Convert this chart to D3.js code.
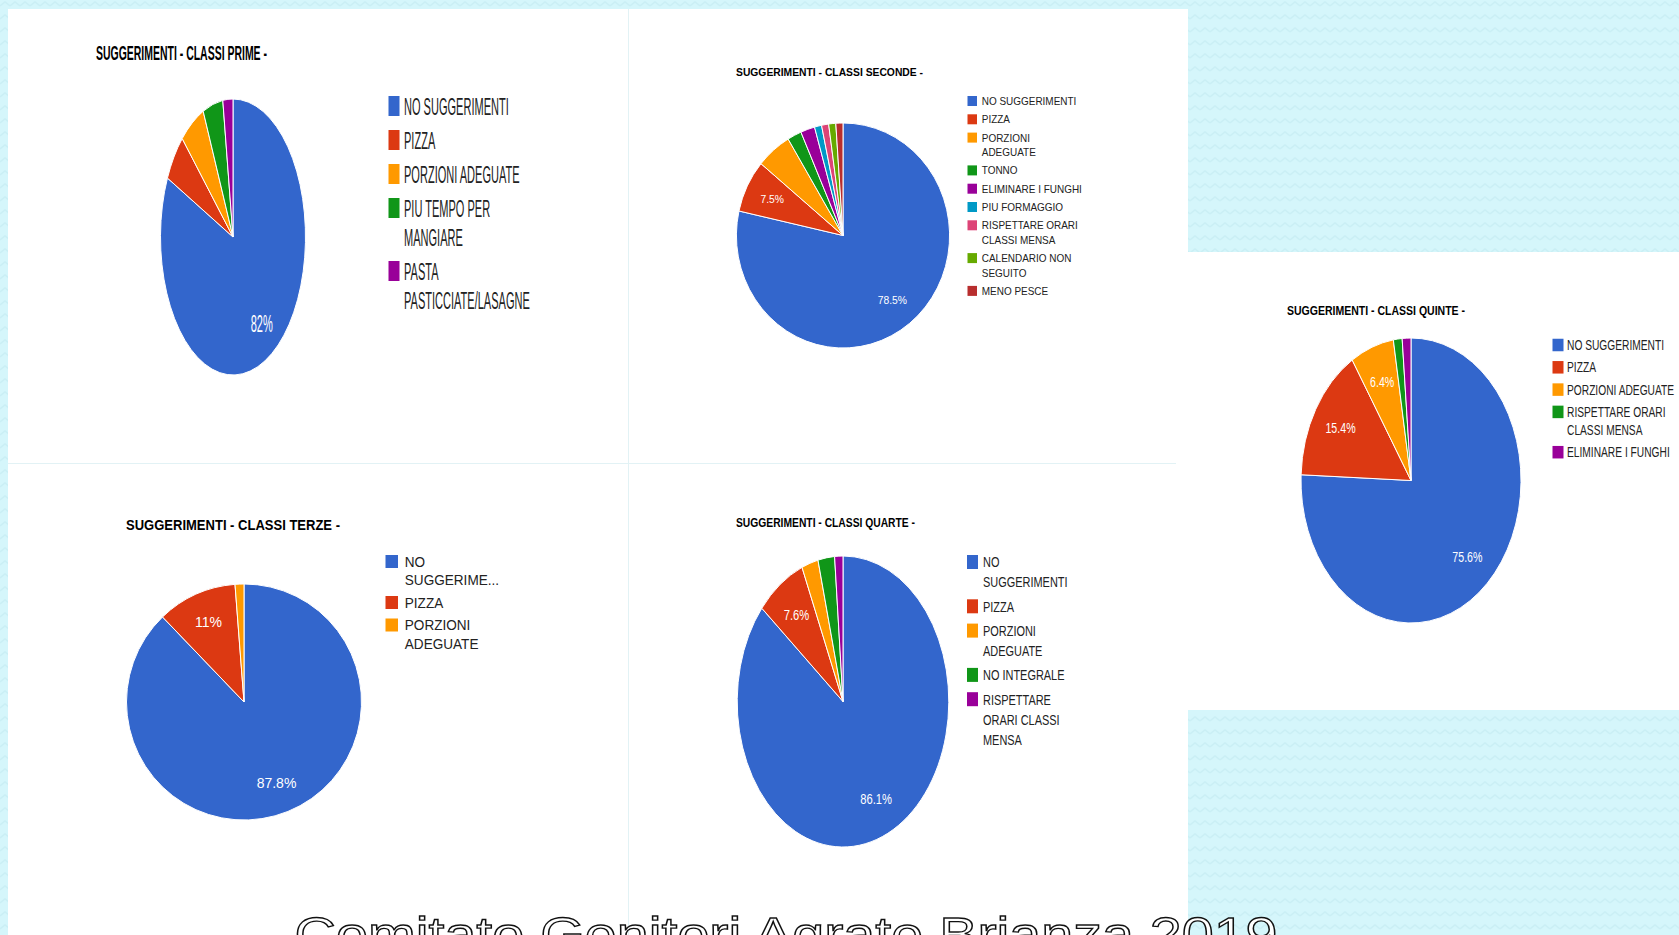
<!DOCTYPE html>
<html>
<head>
<meta charset="utf-8">
<script src="https://cdn.jsdelivr.net/npm/d3@7"></script>
<style>
  html, body { margin: 0; padding: 0; overflow: hidden; background: #d5f6fb; }
  svg { display: block; }
  text { font-family: "Liberation Sans", Arial, sans-serif; }
</style>
</head>
<body>
<svg id="chart"></svg>
<script>
// --- data (counts per suggestion) ---
const primeCategories = ["NO SUGGERIMENTI", "PIZZA", "PORZIONI ADEGUATE", "PIU TEMPO PER MANGIARE", "PASTA PASTICCIATE/LASAGNE"];
const primeValues = [73, 5, 5, 4, 2];

const secondeCategories = ["NO SUGGERIMENTI", "PIZZA", "PORZIONI ADEGUATE", "TONNO", "ELIMINARE I FUNGHI",
  "PIU FORMAGGIO", "RISPETTARE ORARI CLASSI MENSA", "CALENDARIO NON SEGUITO", "MENO PESCE"];
const secondeValues = [73, 7, 5, 2, 2, 1, 1, 1, 1];

const terzeCategories = ["NO SUGGERIMENTI", "PIZZA", "PORZIONI ADEGUATE"];
const terzeValues = [72, 9, 1];

const quarteCategories = ["NO SUGGERIMENTI", "PIZZA", "PORZIONI ADEGUATE", "NO INTEGRALE", "RISPETTARE ORARI CLASSI MENSA"];
const quarteValues = [68, 6, 2, 2, 1];

const quinteCategories = ["NO SUGGERIMENTI", "PIZZA", "PORZIONI ADEGUATE", "RISPETTARE ORARI CLASSI MENSA", "ELIMINARE I FUNGHI"];
const quinteValues = [59, 12, 5, 1, 1];

const colors = ["#3366cc", "#dc3912", "#ff9900", "#109618", "#990099", "#0099c6", "#dd4477", "#66aa00", "#b82e2e"];
const footerText = "Comitato Genitori Agrate Brianza 2019";

const W = 1679, H = 935;

// layout of each chart as it sits (stretched) on the slide
const panels = [
  { title: "SUGGERIMENTI - CLASSI PRIME -", categories: primeCategories, values: primeValues,
    titleX: 96, titleY: 52, titleSize: 21, titleW: 171,
    cx: 233, cy: 237, rx: 72.5, ry: 138, labelSize: 24, labelSx: 0.46,
    legX: 388.5, legY: 106, boxW: 11, boxH: 20, textDx: 15.5,
    legSize: 24, legSx: 0.46, legMaxW: 135, lineH: 29, step: 34 },
  { title: "SUGGERIMENTI - CLASSI SECONDE -", categories: secondeCategories, values: secondeValues,
    titleX: 736, titleY: 72, titleSize: 11, titleW: 187,
    cx: 843, cy: 235.5, rx: 106.6, ry: 112.5, labelSize: 11, labelSx: 0.94,
    legX: 967.5, legY: 101, boxW: 9.5, boxH: 10, textDx: 14.3,
    legSize: 11, legSx: 0.905, legMaxW: 103, lineH: 14.5, step: 18.3 },
  { title: "SUGGERIMENTI - CLASSI TERZE -", categories: terzeCategories, values: terzeValues,
    titleX: 126, titleY: 525, titleSize: 15, titleW: 214,
    cx: 244, cy: 702, rx: 117.5, ry: 118, labelSize: 14, labelSx: 1,
    legX: 385.5, legY: 561.5, boxW: 12.5, boxH: 13, textDx: 19.3,
    legSize: 14, legSx: 0.97, legMaxW: 98, lineH: 18.5, step: 22.5 },
  { title: "SUGGERIMENTI - CLASSI QUARTE -", categories: quarteCategories, values: quarteValues,
    titleX: 736, titleY: 522, titleSize: 13, titleW: 179,
    cx: 843, cy: 701.5, rx: 105.8, ry: 145.5, labelSize: 14, labelSx: 0.8,
    legX: 967, legY: 562, boxW: 11, boxH: 14, textDx: 16,
    legSize: 15, legSx: 0.73, legMaxW: 90, lineH: 20, step: 24.3 },
  { title: "SUGGERIMENTI - CLASSI QUINTE -", categories: quinteCategories, values: quinteValues,
    titleX: 1287, titleY: 311, titleSize: 12.5, titleW: 178,
    cx: 1411, cy: 480.5, rx: 110, ry: 142.5, labelSize: 14, labelSx: 0.76,
    legX: 1552.5, legY: 345, boxW: 11, boxH: 12.5, textDx: 14.5,
    legSize: 14, legSx: 0.73, legMaxW: 115, lineH: 18, step: 22.3 }
];

const svg = d3.select("#chart").attr("width", W).attr("height", H);

// slide background with the zigzag texture
const pat = svg.append("defs").append("pattern")
  .attr("id", "zig").attr("width", 10).attr("height", 13)
  .attr("patternUnits", "userSpaceOnUse");
pat.append("rect").attr("width", 10).attr("height", 13).attr("fill", "#d5f6fb");
pat.append("path").attr("d", "M0,6 L5,2 L10,6")
  .attr("fill", "none").attr("stroke", "#caeff5").attr("stroke-width", 1.4);
svg.append("rect").attr("width", W).attr("height", H).attr("fill", "url(#zig)");

// white screenshot areas
svg.append("rect").attr("x", 8).attr("y", 9).attr("width", 1180).attr("height", H - 9).attr("fill", "#fff");
svg.append("rect").attr("x", 1188).attr("y", 252).attr("width", W - 1188).attr("height", 458).attr("fill", "#fff");
svg.append("line").attr("x1", 628.5).attr("x2", 628.5).attr("y1", 9).attr("y2", H)
  .attr("stroke", "#e2f2f5");
svg.append("line").attr("x1", 8).attr("x2", 1176).attr("y1", 463.5).attr("y2", 463.5)
  .attr("stroke", "#e2f2f5");

const R = 100;
const pie = d3.pie().sort(null).value(d => d);
const arc = d3.arc().innerRadius(0).outerRadius(R);
const labelArc = d3.arc().innerRadius(R * 0.74).outerRadius(R * 0.74);
const pct = d3.format(".1~%");

// wrap a legend label to the legend width, truncating with "..." like Google does
function wrapLines(label, p) {
  const measure = svg.append("text").attr("font-size", p.legSize);
  const width = s => measure.text(s).node().getComputedTextLength() * p.legSx;
  const lines = [];
  let cur = "";
  label.split(" ").forEach(w => {
    const t = cur ? cur + " " + w : w;
    if (!cur || width(t) <= p.legMaxW) cur = t;
    else { lines.push(cur); cur = w; }
  });
  lines.push(cur);
  const out = lines.map(l => {
    if (width(l) <= p.legMaxW) return l;
    let s = l;
    while (s.length > 1 && width(s + "...") > p.legMaxW) s = s.slice(0, -1);
    return s + "...";
  });
  measure.remove();
  return out;
}

panels.forEach(p => {
  const total = d3.sum(p.values);
  const arcs = pie(p.values);

  // title
  svg.append("text")
    .attr("x", p.titleX)
    .attr("y", p.titleY + 0.358 * p.titleSize)
    .attr("font-size", p.titleSize)
    .attr("font-weight", "bold")
    .attr("fill", "#000")
    .attr("textLength", p.titleW)
    .attr("lengthAdjust", "spacingAndGlyphs")
    .text(p.title);

  // pie (drawn as a circle, then stretched like the pasted screenshot)
  svg.append("g")
    .attr("transform", `translate(${p.cx},${p.cy}) scale(${p.rx / R},${p.ry / R})`)
    .selectAll("path")
    .data(arcs)
    .join("path")
    .attr("d", arc)
    .attr("fill", (d, i) => colors[i])
    .attr("stroke", "#fff")
    .attr("stroke-width", 1)
    .attr("vector-effect", "non-scaling-stroke");

  // percentage labels on slices big enough to hold them
  arcs.filter(a => a.value / total >= 0.06).forEach(a => {
    const [lx, ly] = labelArc.centroid(a);
    svg.append("text")
      .attr("transform", `translate(${p.cx + lx * p.rx / R},${p.cy + ly * p.ry / R + 0.358 * p.labelSize}) scale(${p.labelSx},1)`)
      .attr("text-anchor", "middle")
      .attr("font-size", p.labelSize)
      .attr("fill", "#fff")
      .text(pct(a.value / total));
  });

  // legend
  let y = p.legY;
  p.categories.forEach((c, i) => {
    const lines = wrapLines(c, p);
    svg.append("rect")
      .attr("x", p.legX).attr("y", y - p.boxH / 2)
      .attr("width", p.boxW).attr("height", p.boxH)
      .attr("fill", colors[i]);
    lines.forEach((l, j) => {
      svg.append("text")
        .attr("transform", `translate(${p.legX + p.textDx},${y + j * p.lineH + 0.358 * p.legSize}) scale(${p.legSx},1)`)
        .attr("font-size", p.legSize)
        .attr("fill", "#222")
        .text(l);
    });
    y += (lines.length - 1) * p.lineH + p.step;
  });
});

// outlined footer, cut by the bottom of the slide
svg.append("text")
  .attr("x", 294.5)
  .attr("y", 951)
  .attr("font-family", "DejaVu Sans")
  .attr("font-size", 48)
  .attr("textLength", 983)
  .attr("lengthAdjust", "spacingAndGlyphs")
  .attr("fill", "#fff")
  .attr("stroke", "#111")
  .attr("stroke-width", 1.3)
  .text(footerText);
</script>
</body>
</html>
